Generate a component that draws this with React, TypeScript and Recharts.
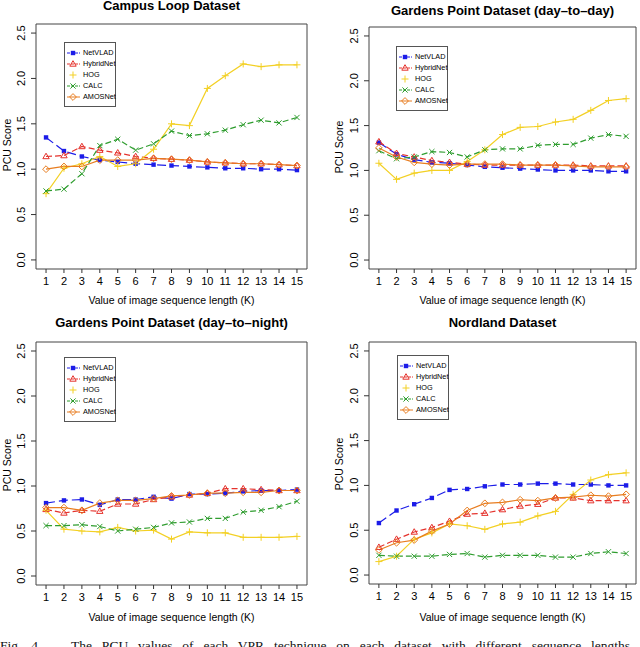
import React from "react";
import { LineChart, Line, XAxis, YAxis, ReferenceArea } from "recharts";

const kValues = [1, 2, 3, 4, 5, 6, 7, 8, 9, 10, 11, 12, 13, 14, 15];
const yTicks = [0, 0.5, 1, 1.5, 2, 2.5];
const methods = ["NetVLAD", "HybridNet", "HOG", "CALC", "AMOSNet"];

// Campus Loop
const campusNetVLAD = [1.35, 1.2, 1.14, 1.1, 1.08, 1.06, 1.05, 1.04, 1.03, 1.02, 1.01, 1.01, 1.0, 1.0, 0.99];
const campusHybridNet = [1.14, 1.15, 1.25, 1.21, 1.18, 1.14, 1.12, 1.11, 1.1, 1.08, 1.07, 1.06, 1.06, 1.05, 1.04];
const campusHOG = [0.73, 1.01, 1.06, 1.14, 1.03, 1.06, 1.22, 1.5, 1.48, 1.89, 2.03, 2.16, 2.13, 2.15, 2.15];
const campusCALC = [0.76, 0.78, 0.95, 1.26, 1.33, 1.21, 1.28, 1.42, 1.37, 1.39, 1.43, 1.49, 1.54, 1.51, 1.57];
const campusAMOSNet = [1.0, 1.03, 1.03, 1.1, 1.1, 1.1, 1.12, 1.11, 1.1, 1.08, 1.07, 1.06, 1.06, 1.05, 1.04];

// Gardens Point day-to-day
const gpDayNetVLAD = [1.31, 1.18, 1.12, 1.09, 1.08, 1.06, 1.04, 1.03, 1.02, 1.01, 1.0, 1.0, 1.0, 0.99, 0.99];
const gpDayHybridNet = [1.32, 1.19, 1.15, 1.11, 1.09, 1.07, 1.06, 1.06, 1.06, 1.06, 1.06, 1.06, 1.05, 1.05, 1.05];
const gpDayHOG = [1.08, 0.9, 0.97, 1.0, 1.0, 1.1, 1.23, 1.4, 1.48, 1.49, 1.54, 1.57, 1.67, 1.78, 1.8];
const gpDayCALC = [1.22, 1.13, 1.15, 1.21, 1.2, 1.15, 1.23, 1.24, 1.24, 1.28, 1.29, 1.29, 1.36, 1.4, 1.38];
const gpDayAMOSNet = [1.25, 1.15, 1.09, 1.07, 1.06, 1.07, 1.07, 1.07, 1.06, 1.06, 1.06, 1.05, 1.04, 1.04, 1.04];

// Gardens Point day-to-night
const gpNightNetVLAD = [0.81, 0.84, 0.85, 0.79, 0.85, 0.85, 0.88, 0.86, 0.91, 0.91, 0.92, 0.94, 0.95, 0.95, 0.96];
const gpNightHybridNet = [0.74, 0.7, 0.73, 0.72, 0.8, 0.8, 0.85, 0.88, 0.9, 0.92, 0.97, 0.97, 0.96, 0.95, 0.95];
const gpNightHOG = [0.73, 0.52, 0.5, 0.49, 0.54, 0.5, 0.51, 0.41, 0.49, 0.48, 0.48, 0.43, 0.43, 0.43, 0.44];
const gpNightCALC = [0.56, 0.56, 0.57, 0.55, 0.5, 0.52, 0.54, 0.59, 0.6, 0.64, 0.64, 0.71, 0.73, 0.77, 0.83];
const gpNightAMOSNet = [0.76, 0.76, 0.73, 0.81, 0.84, 0.84, 0.86, 0.89, 0.9, 0.92, 0.92, 0.93, 0.93, 0.95, 0.95];

// Nordland
const nordNetVLAD = [0.58, 0.72, 0.79, 0.86, 0.95, 0.96, 0.99, 1.01, 1.01, 1.02, 1.02, 1.01, 1.01, 1.0, 1.0];
const nordHybridNet = [0.31, 0.4, 0.48, 0.53, 0.6, 0.68, 0.69, 0.73, 0.77, 0.79, 0.86, 0.86, 0.83, 0.83, 0.83];
const nordHOG = [0.15, 0.21, 0.4, 0.47, 0.57, 0.55, 0.51, 0.57, 0.59, 0.66, 0.71, 0.9, 1.06, 1.12, 1.14];
const nordCALC = [0.22, 0.21, 0.21, 0.21, 0.23, 0.24, 0.2, 0.22, 0.22, 0.22, 0.2, 0.2, 0.24, 0.26, 0.24];
const nordAMOSNet = [0.28, 0.36, 0.39, 0.49, 0.57, 0.72, 0.8, 0.81, 0.84, 0.83, 0.86, 0.87, 0.89, 0.88, 0.9];

const COLORS = ["#1c1ce8", "#e5332d", "#f3d024", "#2f9d2f", "#e87d20"];
const SHAPES = ["square", "triangle", "plus", "cross", "diamond"];
const DASHES = ["9 4", "6 3", undefined, "6 3", undefined];

const FONT = "'Liberation Sans', Arial, sans-serif";

function buildRows(series: number[][]) {
  return kValues.map((k, i) => {
    const row: any = { k };
    methods.forEach((m, j) => (row[m] = series[j][i]));
    return row;
  });
}

function Marker({ shape, cx, cy, color }: any) {
  if (cx == null || cy == null) return null;
  if (shape === "square")
    return <rect x={cx - 2.2} y={cy - 2.2} width={4.4} height={4.4} fill={color} />;
  if (shape === "triangle")
    return (
      <path d={`M${cx},${cy - 3.3}L${cx + 3.2},${cy + 2.2}L${cx - 3.2},${cy + 2.2}Z`} fill="none" stroke={color} strokeWidth={1} />
    );
  if (shape === "plus")
    return (
      <path d={`M${cx - 3.5},${cy}H${cx + 3.5}M${cx},${cy - 3.5}V${cy + 3.5}`} stroke={color} strokeWidth={1} />
    );
  if (shape === "cross")
    return (
      <path d={`M${cx - 2.6},${cy - 2.6}L${cx + 2.6},${cy + 2.6}M${cx - 2.6},${cy + 2.6}L${cx + 2.6},${cy - 2.6}`} stroke={color} strokeWidth={1} />
    );
  return (
    <path d={`M${cx},${cy - 3.4}L${cx + 3.4},${cy}L${cx},${cy + 3.4}L${cx - 3.4},${cy}Z`} fill="none" stroke={color} strokeWidth={1} />
  );
}

function YTick({ x, y, payload }: any) {
  const v = Number(payload.value).toFixed(1);
  return (
    <text
      transform={`translate(${x - 8},${y}) rotate(-90)`}
      textAnchor="middle"
      dy="0.35em"
      fontSize={11}
      fontFamily={FONT}
      fill="#000"
    >
      {v}
    </text>
  );
}

function LegendBox({ left, top }: { left: number; top: number }) {
  return (
    <div
      style={{
        position: "absolute",
        left,
        top,
        width: 52,
        height: 65,
        border: "1px solid #555",
        background: "#fff",
        boxSizing: "border-box",
      }}
    >
      {methods.map((m, i) => (
        <div key={m} style={{ position: "absolute", left: 0, top: 5 + i * 11, height: 10, width: 50 }}>
          <svg width={16} height={10} style={{ position: "absolute", left: 1, top: 0 }}>
            {i !== 2 ? (
              <line x1={1} y1={5} x2={14} y2={5} stroke={COLORS[i]} strokeWidth={1} strokeDasharray={DASHES[i] ? "3 1" : undefined} />
            ) : null}
            <Marker shape={SHAPES[i]} cx={7} cy={5} color={COLORS[i]} />
          </svg>
          <span
            style={{
              position: "absolute",
              left: 18,
              top: 0,
              fontFamily: FONT,
              fontSize: 7.3,
              lineHeight: "10px",
              color: "#000",
              whiteSpace: "nowrap",
            }}
          >
            {m}
          </span>
        </div>
      ))}
    </div>
  );
}

type PanelCfg = {
  title: string;
  series: number[][];
  left: number;
  top: number;
  width: number;
  height: number;
  plotLeft: number;
  plotTop: number;
  plotRight: number;
  plotBottom: number;
  titleY: number;
  xTitleY: number;
  yTitleX: number;
  yTitleY: number;
  legend: { left: number; top: number };
};

const panels: PanelCfg[] = [
  {
    title: "Campus Loop Dataset",
    series: [campusNetVLAD, campusHybridNet, campusHOG, campusCALC, campusAMOSNet],
    left: 0, top: 0, width: 320, height: 310,
    plotLeft: 36, plotTop: 24, plotRight: 307, plotBottom: 269,
    titleY: 6, xTitleY: 300, yTitleX: 7, yTitleY: 145,
    legend: { left: 64, top: 42 },
  },
  {
    title: "Gardens Point Dataset (day–to–day)",
    series: [gpDayNetVLAD, gpDayHybridNet, gpDayHOG, gpDayCALC, gpDayAMOSNet],
    left: 320, top: 0, width: 320, height: 310,
    plotLeft: 369, plotTop: 27, plotRight: 636, plotBottom: 269,
    titleY: 11, xTitleY: 300, yTitleX: 339, yTitleY: 147,
    legend: { left: 396, top: 46 },
  },
  {
    title: "Gardens Point Dataset (day–to–night)",
    series: [gpNightNetVLAD, gpNightHybridNet, gpNightHOG, gpNightCALC, gpNightAMOSNet],
    left: 0, top: 310, width: 320, height: 316,
    plotLeft: 36, plotTop: 342, plotRight: 307, plotBottom: 585,
    titleY: 323, xTitleY: 617, yTitleX: 7, yTitleY: 465,
    legend: { left: 64, top: 357 },
  },
  {
    title: "Nordland Dataset",
    series: [nordNetVLAD, nordHybridNet, nordHOG, nordCALC, nordAMOSNet],
    left: 320, top: 310, width: 320, height: 316,
    plotLeft: 369, plotTop: 342, plotRight: 636, plotBottom: 584,
    titleY: 323, xTitleY: 617, yTitleX: 339, yTitleY: 464,
    legend: { left: 397, top: 355 },
  },
];

function Panel({ p }: { p: PanelCfg }) {
  const rows = buildRows(p.series);
  const yAxisW = p.plotLeft - p.left;
  const xAxisH = p.top + p.height - p.plotBottom;
  const cx = (p.plotLeft + p.plotRight) / 2;
  return (
    <>
      <div style={{ position: "absolute", left: p.left, top: p.top }}>
        <LineChart
          width={p.width}
          height={p.height}
          data={rows}
          margin={{ top: p.plotTop - p.top, right: p.left + p.width - p.plotRight, bottom: 0, left: 0 }}
        >
          <XAxis
            dataKey="k"
            type="number"
            domain={[0.44, 15.56]}
            ticks={kValues}
            interval={0}
            height={xAxisH}
            axisLine={false}
            tickSize={4}
            tickMargin={4}
            tickLine={{ stroke: "#333" }}
            tick={{ fontSize: 11, fontFamily: FONT, fill: "#000" }}
          />
          <YAxis
            type="number"
            domain={[-0.1, 2.6]}
            ticks={yTicks}
            width={yAxisW}
            axisLine={false}
            tickSize={5}
            tickMargin={2}
            tickLine={{ stroke: "#333" }}
            tick={<YTick />}
          />
          <ReferenceArea x1={0.44} x2={15.56} y1={-0.1} y2={2.6} fill="none" stroke="#444" strokeWidth={1} />
          {methods.map((m, i) => (
            <Line
              key={m}
              dataKey={m}
              stroke={COLORS[i]}
              strokeWidth={1.2}
              strokeDasharray={DASHES[i]}
              isAnimationActive={false}
              dot={(props: any) => <Marker key={props.index} shape={SHAPES[i]} cx={props.cx} cy={props.cy} color={COLORS[i]} />}
              activeDot={false}
            />
          ))}
        </LineChart>
      </div>
      <div
        style={{
          position: "absolute",
          left: cx - 160,
          width: 320,
          top: p.titleY - 8,
          textAlign: "center",
          fontFamily: FONT,
          fontWeight: "bold",
          fontSize: 13,
          lineHeight: "16px",
          color: "#000",
          whiteSpace: "nowrap",
        }}
      >
        {p.title}
      </div>
      <div
        style={{
          position: "absolute",
          left: cx - 160,
          width: 320,
          top: p.xTitleY - 7,
          textAlign: "center",
          fontFamily: FONT,
          fontSize: 10.5,
          lineHeight: "14px",
          color: "#000",
          whiteSpace: "nowrap",
        }}
      >
        Value of image sequence length (K)
      </div>
      <div
        style={{
          position: "absolute",
          left: p.yTitleX - 50,
          top: p.yTitleY - 7,
          width: 100,
          height: 14,
          textAlign: "center",
          transform: "rotate(-90deg)",
          fontFamily: FONT,
          fontSize: 10.5,
          lineHeight: "14px",
          color: "#000",
          whiteSpace: "nowrap",
        }}
      >
        PCU Score
      </div>
      <LegendBox left={p.legend.left} top={p.legend.top} />
    </>
  );
}

export default function App() {
  return (
    <div style={{ position: "absolute", left: 0, top: 0, width: 640, height: 647, overflow: "hidden", background: "#fff" }}>
      {panels.map((p) => (
        <Panel key={p.title} p={p} />
      ))}
      <div
        style={{
          position: "absolute",
          left: 0,
          top: 639,
          fontFamily: "'Liberation Serif', 'Times New Roman', serif",
          fontSize: 13.5,
          lineHeight: "13.5px",
          color: "#111",
          whiteSpace: "nowrap",
          wordSpacing: 6.5,
        }}
      >
        Fig. 4.&nbsp;&nbsp;&nbsp;The PCU values of each VPR technique on each dataset with different sequence lengths
      </div>
    </div>
  );
}
